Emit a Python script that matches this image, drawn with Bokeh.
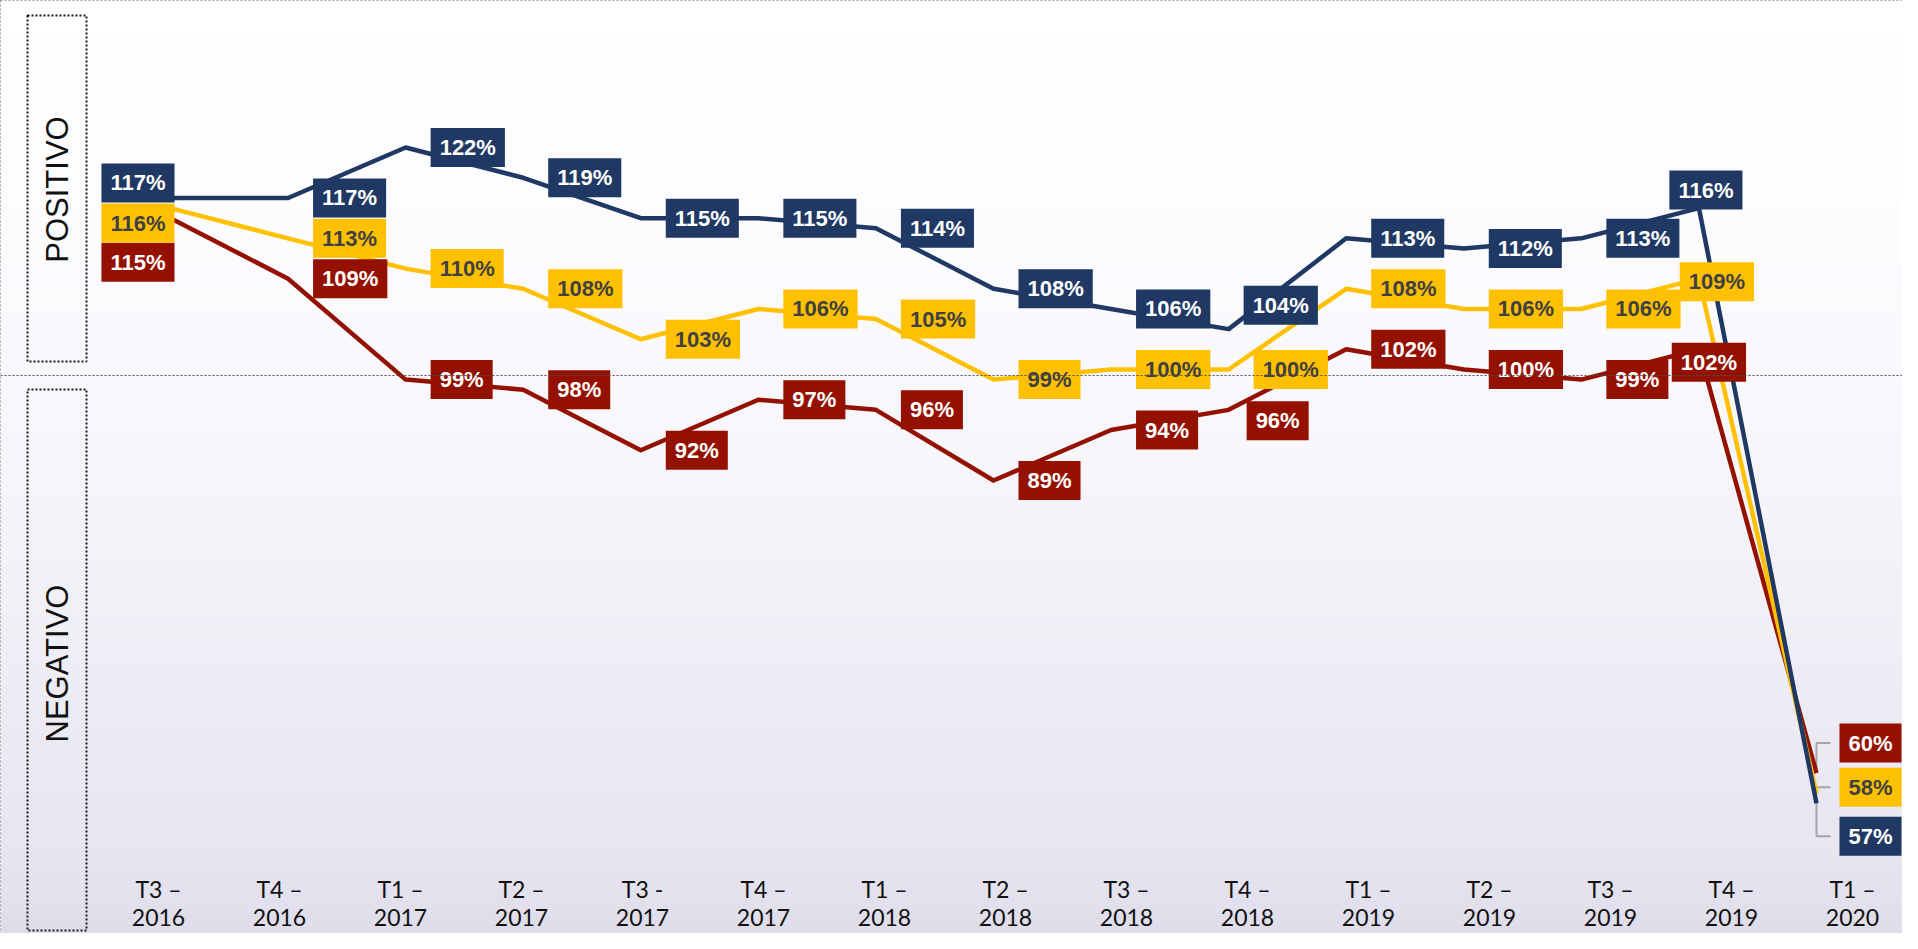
import math
from bokeh.plotting import figure
from bokeh.models import Range1d, Span, ColumnDataSource
from bokeh.core.properties import value
from bokeh.embed import file_html
from bokeh.resources import INLINE

# ---------------- data ----------------
categories = ["T3 – 2016", "T4 – 2016", "T1 – 2017", "T2 – 2017", "T3 - 2017",
              "T4 – 2017", "T1 – 2018", "T2 – 2018", "T3 – 2018", "T4 – 2018",
              "T1 – 2019", "T2 – 2019", "T3 – 2019", "T4 – 2019", "T1 – 2020"]
serie_azul = [117, 117, 122, 119, 115, 115, 114, 108, 106, 104, 113, 112, 113, 116, 57]
serie_amarela = [116, 113, 110, 108, 103, 106, 105, 99, 100, 100, 108, 106, 106, 109, 58]
serie_vermelha = [115, 109, 99, 98, 92, 97, 96, 89, 94, 96, 102, 100, 99, 102, 60]

# ---------------- layout ----------------
W, H = 1902, 933
X0_PX, X_STEP = 170.0, 117.57      # canvas px of first category, px per category
Y100_PX, Y_SCALE = 369.0, 10.09     # canvas px of 100 %, px per percentage point
LAB0_PX, LAB_STEP = 158.0, 121.0    # axis-label text spacing


def fx(px):
    return (px - X0_PX) / X_STEP


def fy(py):
    return 100 - (py - Y100_PX) / Y_SCALE


BLUE, YELLOW, RED = "#1F3864", "#FFC000", "#941100"

p = figure(width=W, height=H, output_backend="svg", toolbar_location=None,
           x_range=Range1d(fx(0), fx(W)), y_range=Range1d(fy(H), fy(0)),
           min_border=0, x_axis_type=None, y_axis_type=None)
p.extra_x_ranges = {"lab": Range1d(-LAB0_PX / LAB_STEP, (W - LAB0_PX) / LAB_STEP)}
p.grid.visible = False
p.background_fill_color = "#f3f2f8"
p.border_fill_color = "#f3f2f8"
p.outline_line_color = "#8a8a8a"
p.outline_line_dash = "2 2"
p.outline_line_width = 1

# background gradient (white top -> lavender-grey bottom)
stops = [(0, (255, 255, 255)), (250, (252, 251, 254)), (450, (247, 246, 251)),
         (650, (239, 238, 246)), (850, (231, 229, 240)), (H, (223, 221, 234))]


def col_at(py):
    for (a, ca), (b, cb) in zip(stops[:-1], stops[1:]):
        if a <= py <= b:
            t = (py - a) / (b - a)
            c = [round(ca[k] + (cb[k] - ca[k]) * t) for k in range(3)]
            return "#%02x%02x%02x" % tuple(c)
    return "#dfdde9"


band = 12
tops, bots, cols = [], [], []
py = 0
while py < H:
    tops.append(fy(py))
    bots.append(fy(min(py + band + 1, H)))
    cols.append(col_at(py + band / 2))
    py += band
p.quad(left=fx(0), right=fx(W), top=tops, bottom=bots, fill_color=cols, line_color=None)

# separator between the positive and negative zones
p.add_layout(Span(location=fy(375), dimension="width", line_color="#4d4d4d",
                  line_dash="2 2", line_width=1))

# POSITIVO / NEGATIVO boxes
p.quad(left=[fx(27), fx(27)], right=[fx(86), fx(86)], top=[fy(15), fy(389)],
       bottom=[fy(361), fy(930)], fill_alpha=0, line_color="#1a1a1a",
       line_dash="2 2", line_width=2)
p.text(x=[fx(57), fx(57)], y=[fy(189), fy(663)], text=["POSITIVO", "NEGATIVO"],
       angle=math.pi / 2, text_align="center", text_baseline="middle",
       text_font=value("Liberation Sans"), text_font_size="31px", text_color="#111111")

# ---------------- series ----------------
series = [("vermelha", serie_vermelha, RED, "white"),
          ("amarela", serie_amarela, YELLOW, "#404040"),
          ("azul", serie_azul, BLUE, "white")]
xs = list(range(len(categories)))

# label placement: default to the right of the point; manual exceptions
exceptions = {
    ("azul", 0): ("right", 4, -15), ("amarela", 0): ("right", 4, 15),
    ("vermelha", 0): ("right", 4, 44),
    ("azul", 9): ("left", 15, -24), ("vermelha", 9): ("left", 18, 11),
    ("azul", 13): ("center", 7, -18), ("amarela", 13): ("center", 18, 3),
    ("vermelha", 13): ("center", 10, 13),
    ("azul", 14): ("left", 23, 33), ("amarela", 14): ("left", 23, -6),
    ("vermelha", 14): ("left", 23, -30),
}

# leader lines for the last point
last = len(categories) - 1
for name, vals, c, tc in series:
    _, dx, dy = exceptions[(name, last)]
    v = vals[last]
    vl = v - dy / Y_SCALE
    p.line(x=[last, last, last + 14 / X_STEP], y=[v, vl, vl], line_color="#a6a6a6",
           line_width=2)

for name, vals, c, tc in series:
    p.line(x=xs, y=vals, line_color=c, line_width=4.5, line_join="round")

for name, vals, c, tc in series:
    al, xo, yo = [], [], []
    for i in xs:
        a, dx, dy = exceptions.get((name, i), ("left", 25, 0))
        al.append(a)
        xo.append(dx)
        yo.append(dy)
    src = ColumnDataSource(dict(x=xs, y=vals, t=[f"{v}%" for v in vals],
                                al=al, xo=xo, yo=yo))
    p.text(x="x", y="y", text="t", source=src, text_align="al", text_baseline="middle",
           x_offset="xo", y_offset="yo", text_font=value("Liberation Sans"),
           text_font_style="bold", text_font_size="22px", text_color=tc,
           background_fill_color=c, padding=(9, 7))

# category labels (two lines)
top_l = [c.rsplit(" ", 1)[0] for c in categories]
bot_l = [c.rsplit(" ", 1)[1] for c in categories]
for lines, py_ in ((top_l, 888), (bot_l, 917)):
    p.text(x=xs, y=[fy(py_)] * len(xs), text=lines, x_range_name="lab",
           text_align="center", text_baseline="middle", text_font=value("Lato"),
           text_font_size="23px", text_color="#111111")

open("out.html", "w").write(file_html(p, INLINE))
